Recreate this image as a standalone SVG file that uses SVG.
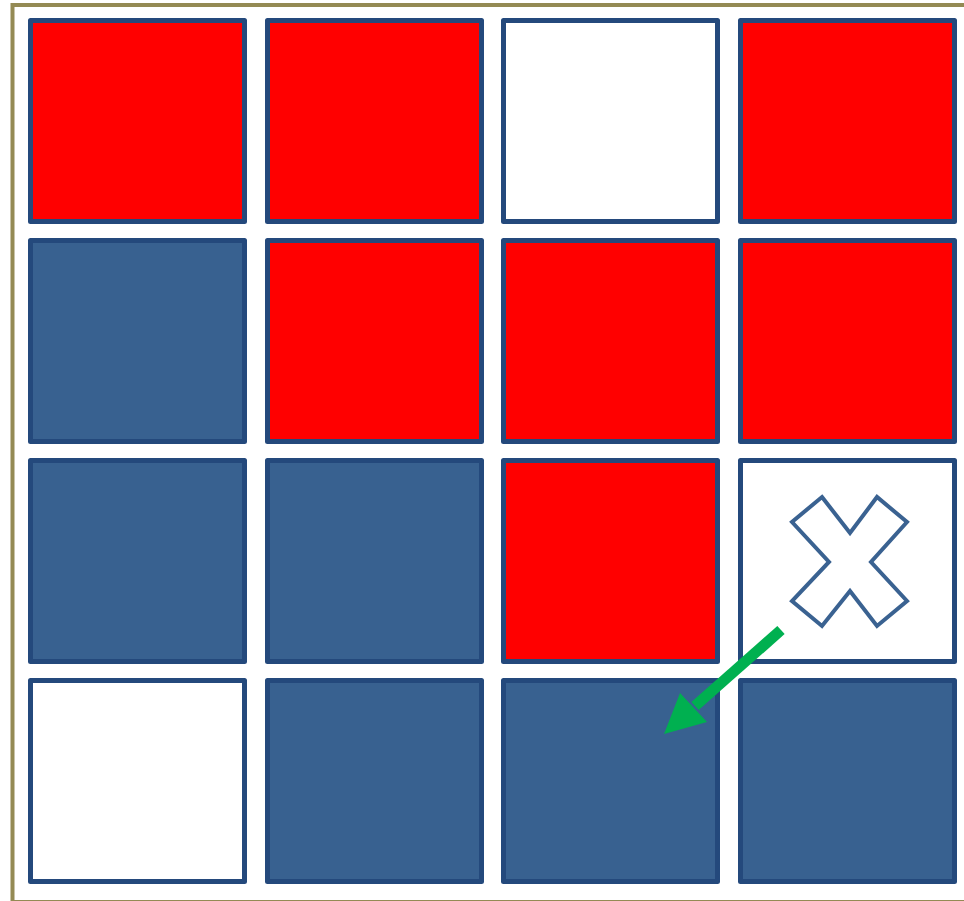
<svg xmlns="http://www.w3.org/2000/svg" width="964" height="901" viewBox="0 0 964 901">
<style>
.cell{stroke:#24497C;stroke-width:5;stroke-linejoin:round}
.r{fill:#FF0000}
.b{fill:#386190}
.w{fill:#FFFFFF}
.frame{fill:none;stroke:#948A54;stroke-width:4}
.x{fill:#FFFFFF;stroke:#3A6291;stroke-width:4;stroke-linejoin:miter}
.arrow{stroke:#00B050;stroke-width:11;fill:none}
.head{fill:#00B050}
</style>
<rect width="964" height="901" fill="#FFFFFF"/>
<rect class="frame" x="12.5" y="5" width="970" height="897"/>
<g id="cell-1-1"><rect class="cell r" x="30.5" y="20.5" width="214" height="201"/></g>
<g id="cell-1-2"><rect class="cell r" x="267.5" y="20.5" width="214" height="201"/></g>
<g id="cell-1-3"><rect class="cell w" x="503.5" y="20.5" width="214" height="201"/></g>
<g id="cell-1-4"><rect class="cell r" x="740.5" y="20.5" width="214" height="201"/></g>
<g id="cell-2-1"><rect class="cell b" x="30.5" y="240.5" width="214" height="201"/></g>
<g id="cell-2-2"><rect class="cell r" x="267.5" y="240.5" width="214" height="201"/></g>
<g id="cell-2-3"><rect class="cell r" x="503.5" y="240.5" width="214" height="201"/></g>
<g id="cell-2-4"><rect class="cell r" x="740.5" y="240.5" width="214" height="201"/></g>
<g id="cell-3-1"><rect class="cell b" x="30.5" y="460.5" width="214" height="201"/></g>
<g id="cell-3-2"><rect class="cell b" x="267.5" y="460.5" width="214" height="201"/></g>
<g id="cell-3-3"><rect class="cell r" x="503.5" y="460.5" width="214" height="201"/></g>
<g id="cell-3-4"><rect class="cell w" x="740.5" y="460.5" width="214" height="201"/>
<polygon class="x" points="822,497 850,533 877,497 907,522 871,562 907,601 877,626 850,591 822,626 792,601 829,562 792,522"/></g>
<g id="cell-4-1"><rect class="cell w" x="30.5" y="680.5" width="214" height="201"/></g>
<g id="cell-4-2"><rect class="cell b" x="267.5" y="680.5" width="214" height="201"/></g>
<g id="cell-4-3"><rect class="cell b" x="503.5" y="680.5" width="214" height="201"/></g>
<g id="cell-4-4"><rect class="cell b" x="740.5" y="680.5" width="214" height="201"/></g>
<g id="connectors">
<line class="arrow" x1="781" y1="630" x2="695" y2="706"/>
<polygon class="head" points="664,734 680,693 707,722"/>
</g>
</svg>
